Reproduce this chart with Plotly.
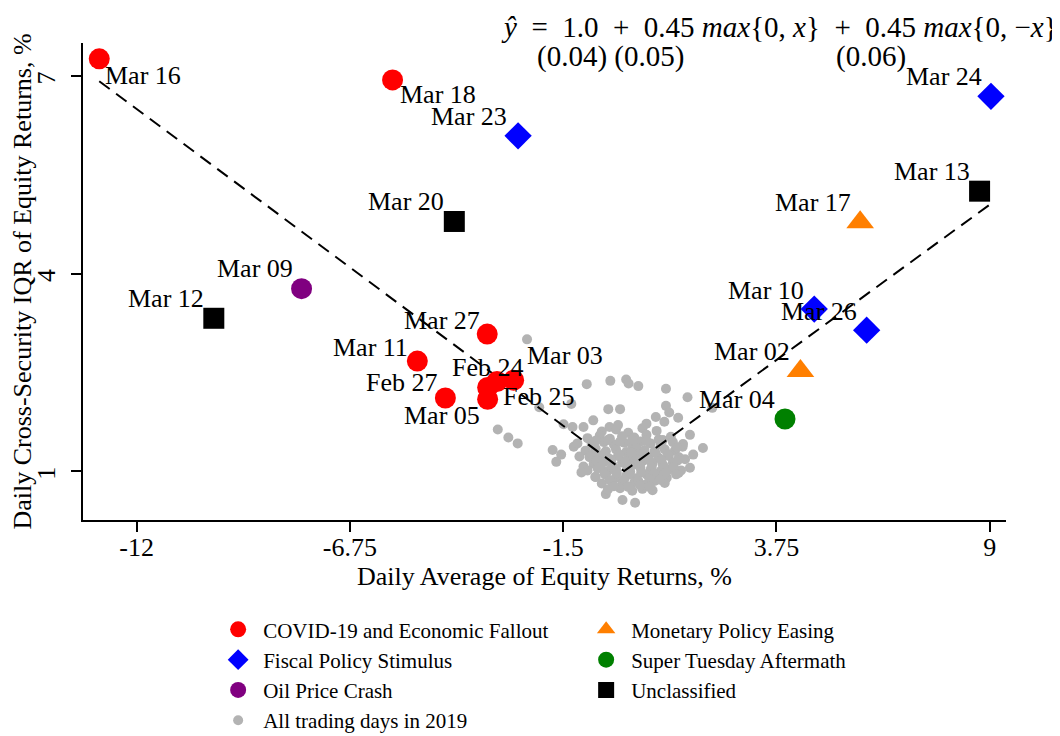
import plotly.graph_objects as go

# ---------------- data ----------------
covid_dates = ["Mar 16", "Mar 18", "Mar 27", "Mar 11", "Feb 27", "Mar 05", "Feb 24", "Feb 25", "Mar 03"]
covid_x = [-12.92, -5.70, -3.37, -5.09, -4.40, -3.36, -3.36, -3.13, -2.72]
covid_y = [7.26, 6.94, 3.08, 2.67, 2.11, 2.09, 2.27, 2.36, 2.38]

fiscal_dates = ["Mar 23", "Mar 24", "Mar 10", "Mar 26"]
fiscal_x = [-2.61, 9.03, 4.68, 5.97]
fiscal_y = [6.09, 6.69, 3.46, 3.14]

oil_dates = ["Mar 09"]
oil_x = [-7.94]
oil_y = [3.77]

monetary_dates = ["Mar 17", "Mar 02"]
monetary_x = [5.81, 4.34]
monetary_y = [4.78, 2.52]

super_dates = ["Mar 04"]
super_x = [3.96]
super_y = [1.79]

unclass_dates = ["Mar 20", "Mar 12", "Mar 13"]
unclass_x = [-4.18, -10.10, 8.75]
unclass_y = [4.79, 3.32, 5.25]

# All trading days in 2019
gray_x = [
    -2.39, -0.92, -0.34, 0.05, 0.11, 0.35, 1.03, 1.56, -1.30, -2.09, -0.39, -0.10, 1.03,
    -0.76, -1.00, -1.27, -1.49, -0.36, 0.78, 1.11, 0.99, -3.11, -2.85, -2.62, -1.24,
    -1.76, -1.55, -1.67, 1.94, 1.44, 1.50, 1.34, -0.45, -0.04, 0.27, 2.17, 1.33, -1.00, -0.71,
    -0.55, -0.20, 0.10, 0.45, 0.80,
    -0.90, -0.60, -0.35, -0.05, 0.25, 0.55, 0.85, 1.15,
    -0.80, -0.50, -0.25, 0.00, 0.20, 0.40, 0.65, 0.90, 1.20, 1.45,
    -0.95, -0.70, -0.45, -0.20, 0.05, 0.30, 0.50, 0.75, 1.00, 1.25,
    -0.85, -0.60, -0.40, -0.15, 0.10, 0.35, 0.60, 0.85, 1.10, 1.35,
    -0.75, -0.50, -0.30, -0.05, 0.20, 0.45, 0.70, 0.95, 1.20,
    -0.90, -0.65, -0.40, -0.20, 0.15, 0.40, 0.65, 0.90, 1.15, 1.40,
    -0.70, -0.45, -0.20, 0.05, 0.30, 0.55, 0.80, 1.05,
    -0.55, -0.30, -0.05, 0.25, 0.50, 0.75, 1.00,
    -0.40, -0.10, 0.20, 0.45, 0.70,
    -0.70, -0.40, -0.10, 0.20, 0.55, 0.95, 1.30,
    -0.78, -0.48, -0.12, 0.18, 0.48, 0.78, 1.08, 1.32,
    -0.68, -0.32, 0.02, 0.32, 0.62, 0.92, 1.22,
    -0.58, -0.28, 0.08, 0.38, 0.68, 0.98,
    -0.48, -0.18, 0.12, 0.42, 0.72, 1.02, 1.28,
    -0.35, 0.00, 0.35, 0.62, 0.88,
    -0.25, 0.10, 0.40, 0.62,
    -1.10, -1.05, 1.62, 1.70, -0.15, 0.55, 1.62, -1.15,
]
gray_y = [
    3.00, 2.32, 2.37, 2.39, 2.33, 2.29, 2.25, 2.12, 2.02, 1.97, 1.94, 1.94, 1.99,
    1.77, 1.67, 1.67, 1.71, 1.67, 1.82, 1.89, 1.75, 1.63, 1.51, 1.42, 1.37,
    1.32, 1.25, 1.14, 1.35, 1.37, 1.18, 0.97, 0.65, 0.56, 0.52, 1.96, 1.81, 1.07, 0.91,
    1.60, 1.63, 1.58, 1.65, 1.61,
    1.50, 1.54, 1.49, 1.53, 1.51, 1.55, 1.48, 1.52,
    1.41, 1.44, 1.40, 1.43, 1.39, 1.45, 1.42, 1.40, 1.44, 1.41,
    1.31, 1.34, 1.30, 1.33, 1.29, 1.35, 1.32, 1.30, 1.33, 1.31,
    1.21, 1.24, 1.20, 1.23, 1.19, 1.25, 1.22, 1.20, 1.23, 1.21,
    1.11, 1.14, 1.10, 1.13, 1.09, 1.15, 1.12, 1.10, 1.13,
    1.01, 1.04, 1.00, 1.03, 0.99, 1.05, 1.02, 1.00, 1.03, 1.01,
    0.91, 0.94, 0.90, 0.93, 0.89, 0.95, 0.92, 0.90,
    0.81, 0.84, 0.80, 0.83, 0.79, 0.85, 0.82,
    0.72, 0.74, 0.70, 0.73, 0.71,
    1.46, 1.47, 1.45, 1.48, 1.46, 1.47, 1.36,
    1.26, 1.27, 1.25, 1.28, 1.26, 1.27, 1.25, 1.16,
    1.16, 1.17, 1.15, 1.18, 1.16, 1.17, 1.06,
    1.06, 1.07, 1.05, 1.08, 1.06, 1.07,
    0.96, 0.97, 0.95, 0.98, 0.96, 0.97, 0.95,
    0.86, 0.87, 0.85, 0.88, 0.87,
    0.77, 0.76, 0.78, 0.76,
    1.22, 0.98, 1.05, 1.25, 1.70, 1.72, 1.55, 1.42,
]

# fitted piecewise-linear line: y = 1.0 + 0.45 max{0,x} + 0.45 max{0,-x}
fit_x = [-12.92, 0.0, 9.03]
fit_y = [6.92, 1.00, 5.06]

x_ticks = [-12, -6.75, -1.5, 3.75, 9]
y_ticks = [1, 4, 7]

# ---------------- style ----------------
FONT = "Liberation Serif"
# label placement: (xanchor, xshift px, yshift px)
label_pos = {
    "Mar 16": ("left", 4, -17), "Mar 18": ("left", 5, -15),
    "Mar 23": ("right", -9, 19), "Mar 20": ("right", -8, 20),
    "Mar 09": ("right", -7, 20), "Mar 12": ("right", -8, 20),
    "Mar 27": ("right", -5, 14), "Mar 11": ("right", -7, 14),
    "Feb 27": ("right", -5, 15), "Mar 05": ("right", -6, -16),
    "Feb 25": ("left", 4, -15), "Feb 24": ("center", 0, 20),
    "Mar 03": ("left", 11, 25), "Mar 24": ("right", -7, 20),
    "Mar 13": ("right", -8, 20), "Mar 17": ("right", -7, 20),
    "Mar 10": ("right", -8, 19), "Mar 26": ("right", -8, 19),
    "Mar 02": ("right", -8, 19), "Mar 04": ("right", -8, 20),
}

fig = go.Figure()

fig.add_trace(go.Scatter(
    x=gray_x, y=gray_y, mode="markers", name="All trading days in 2019",
    marker=dict(color="#B3B3B3", size=10, line=dict(width=0)), legendrank=7))

fig.add_trace(go.Scatter(
    x=fit_x, y=fit_y, mode="lines", showlegend=False,
    line=dict(color="black", width=2, dash="13px,8px")))

groups = [
    ("COVID-19 and Economic Fallout", covid_x, covid_y, "circle", "#FF0000", 21, 1),
    ("Monetary Policy Easing", monetary_x, monetary_y, "triangle-up", "#FF7F00", 24, 2),
    ("Fiscal Policy Stimulus", fiscal_x, fiscal_y, "diamond", "#0000FF", 21, 3),
    ("Super Tuesday Aftermath", super_x, super_y, "circle", "#008000", 21, 4),
    ("Oil Price Crash", oil_x, oil_y, "circle", "#800080", 21, 5),
    ("Unclassified", unclass_x, unclass_y, "square", "#000000", 21, 6),
]
for name, xs, ys, sym, col, sz, rank in groups:
    fig.add_trace(go.Scatter(
        x=xs, y=ys, mode="markers", name=name, legendrank=rank,
        marker=dict(symbol=sym, color=col, size=sz, line=dict(width=0))))

annotations = []
all_dates = covid_dates + fiscal_dates + oil_dates + monetary_dates + super_dates + unclass_dates
all_x = covid_x + fiscal_x + oil_x + monetary_x + super_x + unclass_x
all_y = covid_y + fiscal_y + oil_y + monetary_y + super_y + unclass_y
for d, xv, yv in zip(all_dates, all_x, all_y):
    xa, xs_, ys_ = label_pos[d]
    annotations.append(dict(
        x=xv, y=yv, xref="x", yref="y", text=d, showarrow=False,
        xanchor=xa, yanchor="middle", xshift=xs_, yshift=ys_,
        font=dict(family=FONT, size=26, color="black")))

eq_font = dict(family=FONT, size=29, color="black")
S = "\u00a0"
annotations += [
    dict(xref="paper", yref="paper", x=1.058, y=1.033, xanchor="right", yanchor="middle",
         showarrow=False, font=eq_font,
         text=f"<i>ŷ</i>{S}{S}={S}{S}1.0{S}{S}+{S}{S}0.45{S}<i>max</i>{{0,{S}<i>x</i>}}"
              f"{S}{S}+{S}{S}0.45{S}<i>max</i>{{0,{S}−<i>x</i>}}"),
    dict(xref="paper", yref="paper", x=0.572, y=0.971, xanchor="center", yanchor="middle",
         showarrow=False, font=eq_font, text="(0.04) (0.05)"),
    dict(xref="paper", yref="paper", x=0.854, y=0.971, xanchor="center", yanchor="middle",
         showarrow=False, font=eq_font, text="(0.06)"),
]

fig.update_layout(
    width=1060, height=736,
    margin=dict(l=75, r=62, t=35, b=224, autoexpand=False),
    paper_bgcolor="white", plot_bgcolor="white",
    font=dict(family=FONT, size=26, color="black"),
    annotations=annotations,
    showlegend=True,
    legend=dict(orientation="h", x=0.141, y=-0.187, xanchor="left", yanchor="top",
                font=dict(family=FONT, size=21), itemwidth=40, entrywidth=313,
                traceorder="normal", bgcolor="rgba(0,0,0,0)"),
    xaxis=dict(range=[-13.32, 9.40], tickvals=x_ticks, ticktext=["-12", "-6.75", "-1.5", "3.75", "9"],
               showgrid=False, zeroline=False, showline=True, linecolor="black", linewidth=1.5,
               ticks="outside", ticklen=10, tickwidth=1.5, tickcolor="black",
               automargin=False, ticklabelstandoff=-7,
               title=dict(text="Daily Average of Equity Returns, %", font=dict(size=26), standoff=4),
               tickfont=dict(size=26)),
    yaxis=dict(range=[0.257, 7.50], tickvals=y_ticks, ticktext=["1", "4", "7"], tickangle=-90,
               showgrid=False, zeroline=False, showline=True, linecolor="black", linewidth=1.5,
               ticks="outside", ticklen=10, tickwidth=1.5, tickcolor="black",
               automargin=False, ticklabelstandoff=6, ticklabelshift=6,
               title=dict(text="Daily Cross-Security IQR of Equity Returns, %", font=dict(size=26), standoff=0),
               tickfont=dict(size=26)),
)

fig.write_html("out.html")
